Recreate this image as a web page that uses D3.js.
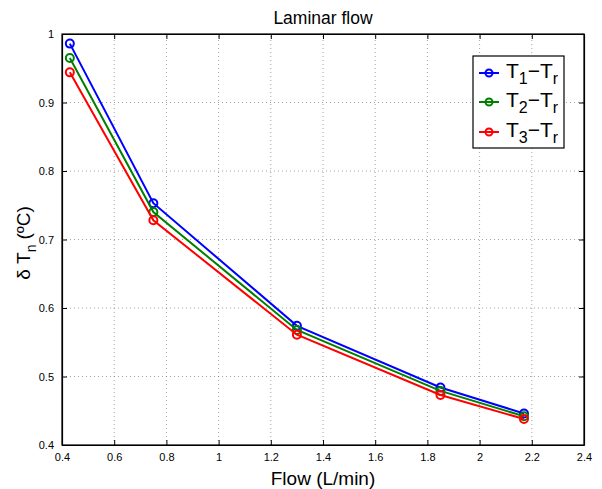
<!DOCTYPE html>
<html>
<head>
<meta charset="utf-8">
<script src="https://cdn.jsdelivr.net/npm/d3@7"></script>
<style>
  body { margin: 0; background: #fff; }
  svg { font-family: "Liberation Sans", Arial, sans-serif; }
</style>
</head>
<body>
<div id="chart"></div>
<script>
// data
const flow = [0.43, 0.75, 1.3, 1.85, 2.17]
const t1 = [0.986, 0.753, 0.574, 0.484, 0.446]
const t2 = [0.965, 0.740, 0.568, 0.479, 0.442]
const t3 = [0.944, 0.728, 0.561, 0.473, 0.438]
const xTicks = [0.4, 0.6, 0.8, 1, 1.2, 1.4, 1.6, 1.8, 2, 2.2, 2.4]
const yTicks = [0.4, 0.5, 0.6, 0.7, 0.8, 0.9, 1]
const seriesNames = ['1', '2', '3']
const seriesColors = ['#0000ff', '#008000', '#ff0000']

const width = 602, height = 489
const margin = { top: 34, right: 18, bottom: 44, left: 62 }

const svg = d3.select('#chart').append('svg')
  .attr('width', width)
  .attr('height', height)

const x = d3.scaleLinear().domain([0.4, 2.4]).range([margin.left, width - margin.right])
const y = d3.scaleLinear().domain([0.4, 1]).range([height - margin.bottom, margin.top])

const x0 = x.range()[0], x1 = x.range()[1]
const y0 = y.range()[0], y1 = y.range()[1]

// dotted grid
const grid = svg.append('g').attr('stroke', '#666').attr('stroke-width', 0.6).attr('stroke-dasharray', '1,3')
grid.selectAll('.gx').data(xTicks.slice(1, -1)).enter().append('line')
  .attr('x1', d => x(d)).attr('x2', d => x(d)).attr('y1', y0).attr('y2', y1)
grid.selectAll('.gy').data(yTicks.slice(1, -1)).enter().append('line')
  .attr('y1', d => y(d)).attr('y2', d => y(d)).attr('x1', x0).attr('x2', x1)

// axes, ticks pointing inward
const tickLen = 5
svg.append('g').attr('transform', `translate(0,${y0})`)
  .call(d3.axisBottom(x).tickValues(xTicks).tickSizeInner(-tickLen).tickSizeOuter(0).tickPadding(8).tickFormat(d3.format('')))
svg.append('g').attr('transform', `translate(0,${y1})`)
  .call(d3.axisTop(x).tickValues(xTicks).tickSizeInner(-tickLen).tickSizeOuter(0).tickFormat(''))
svg.append('g').attr('transform', `translate(${x0},0)`)
  .call(d3.axisLeft(y).tickValues(yTicks).tickSizeInner(-tickLen).tickSizeOuter(0).tickPadding(8).tickFormat(d3.format('')))
svg.append('g').attr('transform', `translate(${x1},0)`)
  .call(d3.axisRight(y).tickValues(yTicks).tickSizeInner(-tickLen).tickSizeOuter(0).tickFormat(''))

svg.selectAll('.domain').attr('stroke', '#000').attr('stroke-width', 1.2)
svg.selectAll('.tick line').attr('stroke', '#000')
svg.selectAll('.tick text').attr('font-size', 11).attr('fill', '#000')
  .attr('font-family', '"Liberation Sans", Arial, sans-serif')

// box frame
svg.append('rect')
  .attr('x', x0).attr('y', y1).attr('width', x1 - x0).attr('height', y0 - y1)
  .attr('fill', 'none').attr('stroke', '#000').attr('stroke-width', 1.2)

// series
const allSeries = [t1, t2, t3]
const line = d3.line().x((d, i) => x(flow[i])).y(d => y(d))
allSeries.forEach((vals, k) => {
  const g = svg.append('g')
  g.append('path').datum(vals)
    .attr('d', line)
    .attr('fill', 'none')
    .attr('stroke', seriesColors[k])
    .attr('stroke-width', 2)
  g.selectAll('circle').data(vals).enter().append('circle')
    .attr('cx', (d, i) => x(flow[i]))
    .attr('cy', d => y(d))
    .attr('r', 4)
    .attr('fill', 'none')
    .attr('stroke', seriesColors[k])
    .attr('stroke-width', 2)
})

// title and labels
svg.append('text')
  .attr('x', (x0 + x1) / 2).attr('y', 24)
  .attr('text-anchor', 'middle').attr('font-size', 17.5)
  .text('Laminar flow')

svg.append('text')
  .attr('x', (x0 + x1) / 2).attr('y', 485)
  .attr('text-anchor', 'middle').attr('font-size', 19)
  .text('Flow (L/min)')

const yl = svg.append('text')
  .attr('transform', `translate(30,243) rotate(-90)`)
  .attr('text-anchor', 'middle').attr('font-size', 19)
yl.append('tspan').text('\u03b4 T')
yl.append('tspan').attr('font-size', 14).attr('dy', 6).text('n')
yl.append('tspan').attr('dy', -6).attr('dx', 5).text('(\u00baC)')

// legend
const leg = svg.append('g')
leg.append('rect')
  .attr('x', 473).attr('y', 56).attr('width', 91).attr('height', 92)
  .attr('fill', '#fff').attr('stroke', '#000').attr('stroke-width', 1.2)
const rowY = [73, 102, 132]
seriesNames.forEach((n, k) => {
  const cy = rowY[k]
  leg.append('line').attr('x1', 479).attr('x2', 499).attr('y1', cy).attr('y2', cy)
    .attr('stroke', seriesColors[k]).attr('stroke-width', 2)
  leg.append('circle').attr('cx', 489).attr('cy', cy).attr('r', 3.5)
    .attr('fill', 'none').attr('stroke', seriesColors[k]).attr('stroke-width', 2)
  const t = leg.append('text').attr('x', 506).attr('y', cy + 5).attr('font-size', 21)
  t.append('tspan').text('T')
  t.append('tspan').attr('font-size', 16).attr('dy', 6).text(n)
  t.append('tspan').attr('dy', -6).text('\u2212T')
  t.append('tspan').attr('font-size', 16).attr('dy', 6).text('r')
})
</script>
</body>
</html>
